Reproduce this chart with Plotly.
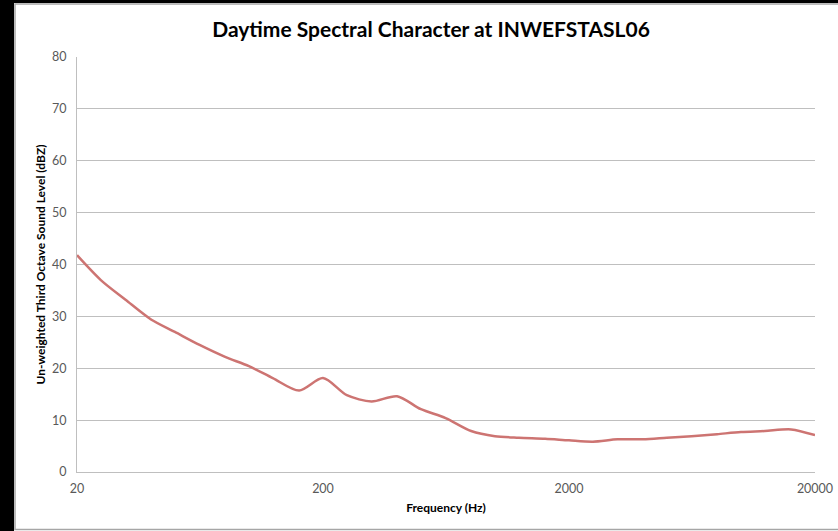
import plotly.graph_objects as go

freqs = [20, 25, 31.5, 40, 50, 63, 80, 100, 125, 160, 200, 250, 315, 400, 500, 630,
         800, 1000, 1250, 1600, 2000, 2500, 3150, 4000, 5000, 6300, 8000, 10000,
         12500, 16000, 20000]
levels = [41.8, 37.0, 33.2, 29.4, 27.0, 24.5, 22.2, 20.4, 18.1, 15.7, 18.1, 14.8,
          13.6, 14.6, 12.1, 10.4, 7.9, 6.9, 6.6, 6.4, 6.1, 5.85, 6.3, 6.3, 6.6,
          6.9, 7.3, 7.7, 7.9, 8.2, 7.1]
x_ticks = [20, 200, 2000, 20000]
x_tick_labels = ["20", "200", "2000", "20000"]
y_ticks = [0, 10, 20, 30, 40, 50, 60, 70, 80]

W, H = 838, 531
L, R, T, B = 77, 23, 57, 59
pw, ph = W - L - R, H - T - B


def px(x):
    return (x - L) / pw


def py(y):
    return (H - B - y) / ph


fig = go.Figure()
fig.add_trace(go.Scatter(
    x=freqs, y=levels, mode="lines",
    line=dict(color="#CD7472", width=2.5, shape="spline", smoothing=0.8),
    showlegend=False, hoverinfo="skip",
))

shapes = [
    dict(type="rect", xref="paper", yref="paper", x0=px(-5), x1=px(14), y0=py(540), y1=py(-10),
         fillcolor="black", line=dict(width=0), layer="above"),
    dict(type="rect", xref="paper", yref="paper", x0=px(-5), x1=px(900), y0=py(3), y1=py(-10),
         fillcolor="black", line=dict(width=0), layer="above"),
    dict(type="rect", xref="paper", yref="paper", x0=px(15), x1=px(900), y0=py(529.5), y1=py(4),
         fillcolor="rgba(0,0,0,0)", line=dict(color="#A6A6A6", width=1.5), layer="below"),
]

fig.update_layout(
    width=W, height=H,
    margin=dict(l=L, r=R, t=T, b=B, autoexpand=False),
    paper_bgcolor="white", plot_bgcolor="white",
    title=dict(text="<b>Daytime Spectral Character at INWEFSTASL06</b>",
               x=431 / W, xanchor="center", y=1 - 30 / H, yanchor="middle",
               font=dict(family="Lato", size=21, color="black")),
    shapes=shapes,
    xaxis=dict(type="log", range=[1.30103, 4.30103], tickvals=x_ticks, ticktext=x_tick_labels,
               showgrid=False, showline=True, linecolor="#BFBFBF", linewidth=1,
               ticks="", ticklabelstandoff=5, automargin=False,
               tickfont=dict(family="Lato", size=12.5, color="#595959"),
               title=dict(text="<b>Frequency (Hz)</b>", font=dict(family="Lato", size=12, color="black"),
                          standoff=8),
               zeroline=False),
    yaxis=dict(range=[0, 80], tickvals=y_ticks, showgrid=True, gridcolor="#BFBFBF", gridwidth=1,
               showline=True, linecolor="#BFBFBF", linewidth=1, ticks="", ticklabelstandoff=7,
               automargin=False,
               tickfont=dict(family="Lato", size=12.5, color="#595959"),
               title=dict(text="<b>Un-weighted Third Octave Sound Level (dBZ)</b>",
                          font=dict(family="Lato", size=12, color="black"), standoff=3),
               zeroline=False),
)

fig.write_html("out.html", config={"displayModeBar": False},
               post_script="document.body.style.margin='0px';document.body.style.overflow='hidden';")
